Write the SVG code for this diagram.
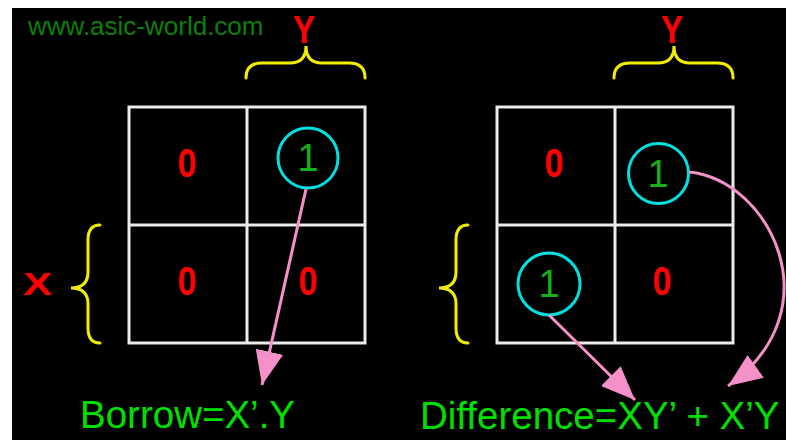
<svg xmlns="http://www.w3.org/2000/svg" width="786" height="440" viewBox="0 0 786 440">
<defs>
<style>
.grid{fill:none;stroke:#ececec;stroke-width:3}
.brace{fill:none;stroke:#f2ee00;stroke-width:3;stroke-linecap:round}
.zero{font-family:"Liberation Sans",Arial,sans-serif;font-weight:bold;font-size:40px;fill:#ff0000;text-anchor:middle}
.one{font-family:"Liberation Sans",Arial,sans-serif;font-size:38px;fill:#18b018;text-anchor:middle}
.ring{fill:none;stroke:#00e0e0;stroke-width:3}
.lbl{font-family:"Liberation Sans",Arial,sans-serif;font-weight:bold;fill:#ff0000;text-anchor:middle}
.eq{font-family:"Liberation Sans",Arial,sans-serif;font-size:38.5px;fill:#00e000}
.conn{fill:none;stroke:#f590c8;stroke-width:3}
</style>
<marker id="head" markerUnits="userSpaceOnUse" markerWidth="40" markerHeight="32" refX="34" refY="14" orient="auto" viewBox="0 0 40 32">
<path d="M0,0 L34,14 L0,28 Z" fill="#f590c8"/>
</marker>
</defs>
<rect x="0" y="0" width="786" height="440" fill="#ffffff"/>
<rect x="12" y="8" width="774" height="432" fill="#000000"/>
<text x="28" y="35" font-family="Liberation Sans, Arial, sans-serif" font-size="26" fill="#0a800a">www.asic-world.com</text>

<g id="kmap-borrow">
<rect class="grid" x="129" y="107" width="236" height="236"/>
<line class="grid" x1="247" y1="107" x2="247" y2="343"/>
<line class="grid" x1="129" y1="225" x2="365" y2="225"/>
<text class="zero" x="187" y="177" textLength="19" lengthAdjust="spacingAndGlyphs">0</text>
<text class="zero" x="187" y="295" textLength="19" lengthAdjust="spacingAndGlyphs">0</text>
<text class="zero" x="308" y="295" textLength="19" lengthAdjust="spacingAndGlyphs">0</text>
<circle class="ring" cx="308" cy="158" r="30"/>
<text class="one" x="308" y="171">1</text>
</g>

<g id="label-y-left">
<text class="lbl" x="304" y="43" font-size="39" textLength="22" lengthAdjust="spacingAndGlyphs">Y</text>
<path class="brace" d="M246,78 Q246,63 262,63 L290,63 Q306,63 306,46 Q306,63 322,63 L349,63 Q365,63 365,78"/>
</g>

<g id="label-x-left">
<text class="lbl" x="23" y="295" font-size="32" style="text-anchor:start" textLength="29" lengthAdjust="spacingAndGlyphs">X</text>
<path class="brace" d="M100,225 Q88,225 88,240 L88,272 Q88,288 71,288 Q88,288 88,304 L88,328 Q88,343 100,343"/>
</g>

<g id="kmap-difference">
<rect class="grid" x="497" y="107" width="236" height="236"/>
<line class="grid" x1="615" y1="107" x2="615" y2="343"/>
<line class="grid" x1="497" y1="225" x2="733" y2="225"/>
<text class="zero" x="554" y="177" textLength="19" lengthAdjust="spacingAndGlyphs">0</text>
<text class="zero" x="662" y="295" textLength="19" lengthAdjust="spacingAndGlyphs">0</text>
<circle class="ring" cx="658.5" cy="173.5" r="30"/>
<text class="one" x="658" y="187">1</text>
<circle class="ring" cx="549" cy="284" r="31"/>
<text class="one" x="549" y="297">1</text>
</g>

<g id="label-y-right">
<text class="lbl" x="672" y="43" font-size="39" textLength="22" lengthAdjust="spacingAndGlyphs">Y</text>
<path class="brace" d="M614,78 Q614,63 630,63 L658,63 Q674,63 674,46 Q674,63 690,63 L717,63 Q733,63 733,78"/>
</g>

<g id="label-x-right">
<path class="brace" d="M468,225 Q456,225 456,240 L456,272 Q456,288 439,288 Q456,288 456,304 L456,328 Q456,343 468,343"/>
</g>

<g id="connectors">
<path class="conn" d="M306,189 L262,385" marker-end="url(#head)"/>
<path class="conn" d="M549,315 L635,400" marker-end="url(#head)"/>
<path class="conn" d="M689,172 C770,180 835,310 728,386" marker-end="url(#head)"/>
</g>

<g id="borrow-eq">
<text class="eq" x="80" y="428">Borrow=X’.Y</text>
</g>
<g id="difference-eq">
<text class="eq" x="420" y="429">Difference=XY’ + X’Y</text>
</g>
</svg>
